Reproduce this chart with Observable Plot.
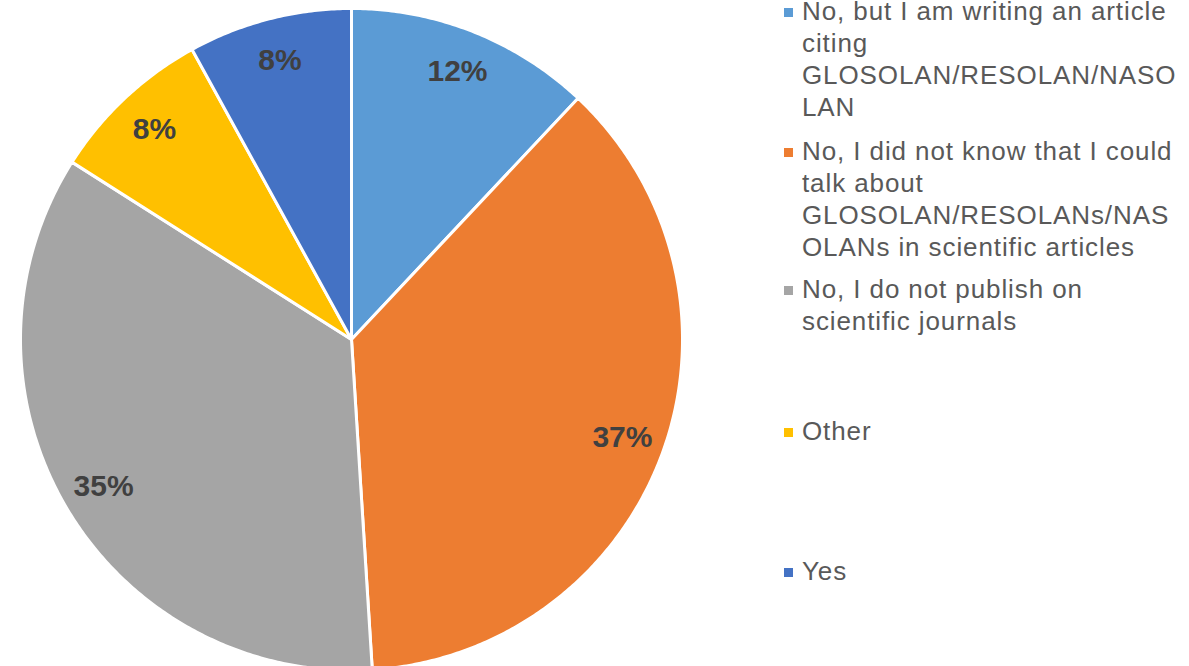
<!DOCTYPE html>
<html>
<head>
<meta charset="utf-8">
<script src="https://cdn.jsdelivr.net/npm/d3@7"></script>
<script src="https://cdn.jsdelivr.net/npm/@observablehq/plot@0.6"></script>
<style>
  html, body { margin: 0; padding: 0; background: #fff; }
  #wrap { position: relative; width: 1189px; height: 666px; overflow: hidden; font-family: "Liberation Sans", Arial, sans-serif; }
  #chart svg { display: block; }
  .legend-item { position: absolute; left: 802px; font-size: 26px; letter-spacing: 0.9px; line-height: 32px; color: #595959; white-space: nowrap; }
  .legend-item .sw { position: absolute; left: -18px; width: 9px; height: 9px; }
</style>
</head>
<body>
<div id="wrap">
  <div id="chart"></div>
  <div id="legend"></div>
</div>
<script>
const categories = [
  "No, but I am writing an article citing GLOSOLAN/RESOLAN/NASOLAN",
  "No, I did not know that I could talk about GLOSOLAN/RESOLANs/NASOLANs in scientific articles",
  "No, I do not publish on scientific journals",
  "Other",
  "Yes"
];
const values = [12, 37, 35, 8, 8];
const legendLines = [
  ["No, but I am writing an article", "citing", "GLOSOLAN/RESOLAN/NASO", "LAN"],
  ["No, I did not know that I could", "talk about", "GLOSOLAN/RESOLANs/NAS", "OLANs in scientific articles"],
  ["No, I do not publish on", "scientific journals"],
  ["Other"],
  ["Yes"]
];
const palette = ["#5B9BD5", "#ED7D31", "#A5A5A5", "#FFC000", "#4472C4"];

// Build slice outlines (unit circle, clockwise from 12 o'clock)
const total = d3.sum(values);
const slices = [];
const labelPts = [];
let acc = 0;
values.forEach((v, i) => {
  const a0 = acc / total * 2 * Math.PI;
  const a1 = (acc + v) / total * 2 * Math.PI;
  acc += v;
  slices.push({cat: categories[i], x: 0, y: 0});
  const n = Math.max(2, Math.ceil((a1 - a0) / (Math.PI / 360)));
  for (let k = 0; k <= n; k++) {
    const a = a0 + (a1 - a0) * k / n;
    slices.push({cat: categories[i], x: Math.sin(a), y: Math.cos(a)});
  }
  slices.push({cat: categories[i], x: 0, y: 0});
  const am = (a0 + a1) / 2;
  labelPts.push({cat: categories[i], x: 0.87 * Math.sin(am), y: 0.87 * Math.cos(am), text: Math.round(v / total * 100) + "%"});
});

const chart = Plot.plot({
  width: 1189,
  height: 666,
  margin: 0,
  x: {domain: [-1, 1], range: [20, 682], axis: null},
  y: {domain: [-1, 1], range: [670, 8], axis: null},
  color: {domain: categories, range: palette},
  style: {fontFamily: "'Liberation Sans', Arial, sans-serif", background: "transparent"},
  marks: [
    Plot.line(slices, {x: "x", y: "y", z: "cat", fill: "cat", stroke: "white", strokeWidth: 3, strokeLinejoin: "round", curve: "linear"}),
    Plot.text(labelPts, {x: "x", y: "y", text: "text", fontSize: 30, fontWeight: "bold", fill: "#404040", textAnchor: "middle", lineAnchor: "middle"})
  ]
});
document.getElementById("chart").appendChild(chart);

// Legend
const tops = [-5, 135, 273, 415, 555];
const legend = document.getElementById("legend");
categories.forEach((c, i) => {
  const div = document.createElement("div");
  div.className = "legend-item";
  div.style.top = tops[i] + "px";
  const sw = document.createElement("span");
  sw.className = "sw";
  sw.style.background = palette[i];
  sw.style.top = "13px";
  div.appendChild(sw);
  div.innerHTML += legendLines[i].join("<br>");
  legend.appendChild(div);
});
</script>
</body>
</html>
